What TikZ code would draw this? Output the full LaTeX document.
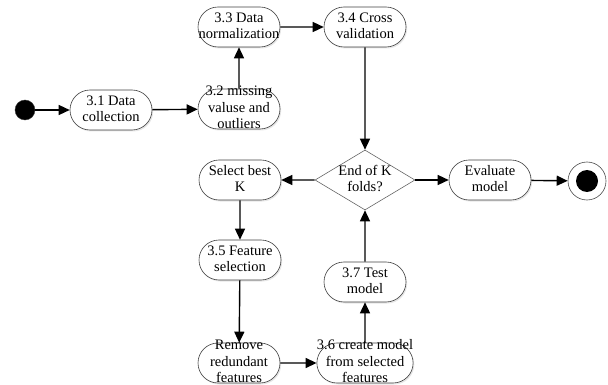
\documentclass[tikz,border=0pt]{standalone}
\usepackage{fontspec}
\setmainfont{Liberation Serif}
\usepackage{tikz}
\usetikzlibrary{shapes.misc,shapes.geometric,arrows.meta,shadows}

% text that may run over the border of its node
\newcommand{\acttext}[1]{\smash{\raisebox{-0.25em}{\begin{tabular}{@{}c@{}}#1\end{tabular}}}}

\begin{document}
\begin{tikzpicture}[x=1pt,y=-1pt,
    act/.style={rounded rectangle, draw=black!75, line width=0.6pt, fill=white,
        minimum width=82pt, minimum height=40pt, inner sep=0pt,
        drop shadow={shadow xshift=1.2pt,shadow yshift=-1.5pt,opacity=0.2}},
    decide/.style={diamond, draw=black!60, line width=0.6pt, fill=white,
        minimum width=100pt, minimum height=60pt, inner sep=0pt, aspect=1.67},
    flow/.style={line width=1.4pt, -{Triangle[length=11pt,width=10pt]}},
    font=\fontsize{14.5}{16.5}\selectfont]
    \useasboundingbox (0,0) rectangle (608,385);

    % Start
    \node[circle, fill=black, draw=black!80, minimum size=20pt, inner sep=0pt] (start) at (25,110) {};

    % Preprocessing
    \node[act] (collect) at (111,110) {\acttext{3.1 Data\\collection}};
    \node[act] (missing) at (239,109) {\acttext{3.2 missing\\valuse and\\outliers}};
    \node[act] (norm) at (239,27) {\acttext{3.3 Data\\normalization}};
    \node[act] (cross) at (365,27) {\acttext{3.4 Cross\\validation}};

    % Decision
    \node[decide] (folds) at (365,180) {\acttext{End of K\\folds?}};
    \node[act] (bestk) at (240,180) {\acttext{Select best\\K}};
    \node[act] (eval) at (490,180) {\acttext{Evaluate\\model}};

    % End
    \node[circle, draw=black!70, line width=0.6pt, minimum size=38pt, inner sep=0pt] (finish) at (587,181) {};
    \node[circle, fill=black, minimum size=22pt, inner sep=0pt] (finishdot) at (587,181) {};

    % Feature selection loop
    \node[act] (featsel) at (240,260) {\acttext{3.5 Feature\\selection}};
    \node[act] (remove) at (239,363) {\acttext{Remove\\redundant\\features}};
    \node[act] (create) at (365,363) {\acttext{3.6 create model\\from selected\\features}};
    \node[act] (test) at (365,282) {\acttext{3.7 Test\\model}};

    % Flows
    \draw[flow] (start) -- (collect);
    \draw[flow] (collect) -- (missing);
    \draw[flow] (missing) -- (norm);
    \draw[flow] (norm) -- (cross);
    \draw[flow] (cross) -- (folds);
    \draw[flow] (folds) -- (bestk);
    \draw[flow] (folds) -- (eval);
    \draw[flow] (eval) -- (finish);
    \draw[flow] (bestk) -- (featsel);
    \draw[flow] (featsel) -- (remove);
    \draw[flow] (remove) -- (create);
    \draw[flow] (create) -- (test);
    \draw[flow] (test) -- (folds);

\end{tikzpicture}
\end{document}
